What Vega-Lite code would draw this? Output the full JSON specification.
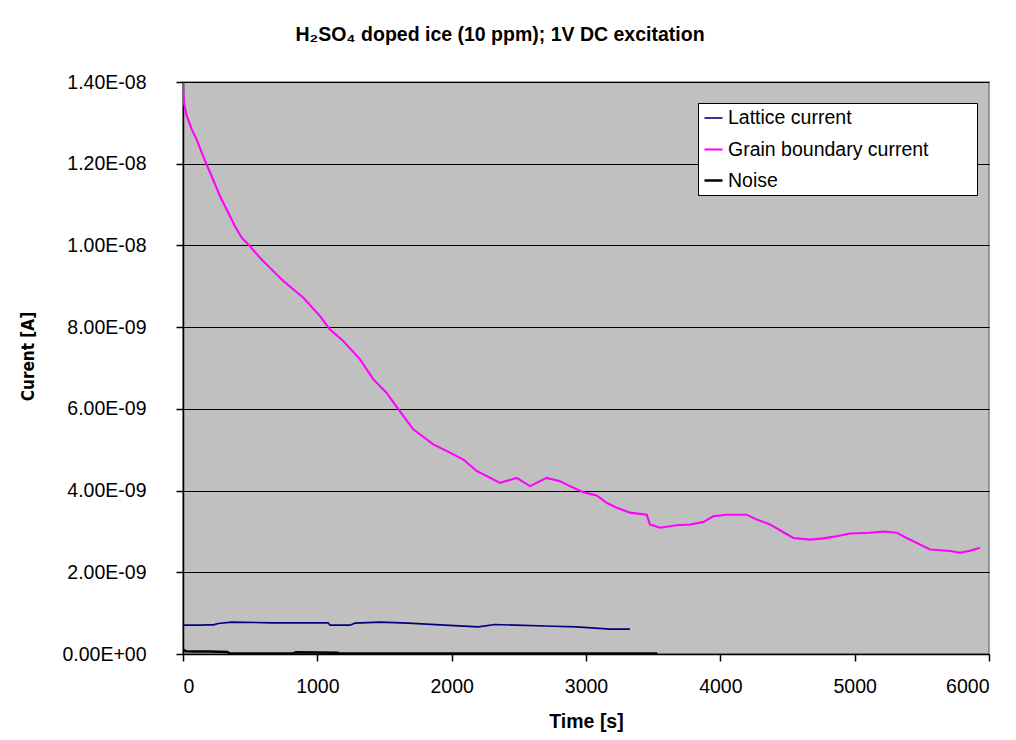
{
  "$schema": "https://vega.github.io/schema/vega-lite/v6.json",
  "autosize": {"type": "none"},
  "width": 806,
  "height": 572,
  "padding": {"left": 183, "top": 82, "right": 27, "bottom": 86},
  "background": "#ffffff",
  "title": {
    "text": "H₂SO₄ doped ice (10 ppm); 1V DC excitation",
    "font": "Liberation Sans",
    "fontSize": 19.5,
    "fontWeight": "bold",
    "color": "#000000",
    "anchor": "middle",
    "frame": "group",
    "dx": -86,
    "baseline": "alphabetic",
    "offset": 12
  },
  "data": {
    "values": [
      {"t": 0, "I": 1.398e-8, "s": "Grain boundary current"},
      {"t": 7, "I": 1.349e-8, "s": "Grain boundary current"},
      {"t": 28, "I": 1.317e-8, "s": "Grain boundary current"},
      {"t": 65, "I": 1.284e-8, "s": "Grain boundary current"},
      {"t": 102, "I": 1.259e-8, "s": "Grain boundary current"},
      {"t": 139, "I": 1.228e-8, "s": "Grain boundary current"},
      {"t": 176, "I": 1.198e-8, "s": "Grain boundary current"},
      {"t": 223, "I": 1.162e-8, "s": "Grain boundary current"},
      {"t": 275, "I": 1.121e-8, "s": "Grain boundary current"},
      {"t": 325, "I": 1.088e-8, "s": "Grain boundary current"},
      {"t": 387, "I": 1.047e-8, "s": "Grain boundary current"},
      {"t": 437, "I": 1.019e-8, "s": "Grain boundary current"},
      {"t": 499, "I": 9.98e-9, "s": "Grain boundary current"},
      {"t": 573, "I": 9.70e-9, "s": "Grain boundary current"},
      {"t": 648, "I": 9.45e-9, "s": "Grain boundary current"},
      {"t": 747, "I": 9.13e-9, "s": "Grain boundary current"},
      {"t": 896, "I": 8.72e-9, "s": "Grain boundary current"},
      {"t": 1020, "I": 8.27e-9, "s": "Grain boundary current"},
      {"t": 1094, "I": 7.94e-9, "s": "Grain boundary current"},
      {"t": 1193, "I": 7.66e-9, "s": "Grain boundary current"},
      {"t": 1318, "I": 7.21e-9, "s": "Grain boundary current"},
      {"t": 1417, "I": 6.72e-9, "s": "Grain boundary current"},
      {"t": 1516, "I": 6.39e-9, "s": "Grain boundary current"},
      {"t": 1615, "I": 5.94e-9, "s": "Grain boundary current"},
      {"t": 1714, "I": 5.50e-9, "s": "Grain boundary current"},
      {"t": 1863, "I": 5.13e-9, "s": "Grain boundary current"},
      {"t": 1988, "I": 4.93e-9, "s": "Grain boundary current"},
      {"t": 2087, "I": 4.76e-9, "s": "Grain boundary current"},
      {"t": 2186, "I": 4.48e-9, "s": "Grain boundary current"},
      {"t": 2360, "I": 4.19e-9, "s": "Grain boundary current"},
      {"t": 2484, "I": 4.31e-9, "s": "Grain boundary current"},
      {"t": 2583, "I": 4.11e-9, "s": "Grain boundary current"},
      {"t": 2707, "I": 4.31e-9, "s": "Grain boundary current"},
      {"t": 2806, "I": 4.23e-9, "s": "Grain boundary current"},
      {"t": 2881, "I": 4.11e-9, "s": "Grain boundary current"},
      {"t": 2980, "I": 3.96e-9, "s": "Grain boundary current"},
      {"t": 3080, "I": 3.88e-9, "s": "Grain boundary current"},
      {"t": 3154, "I": 3.70e-9, "s": "Grain boundary current"},
      {"t": 3229, "I": 3.58e-9, "s": "Grain boundary current"},
      {"t": 3328, "I": 3.46e-9, "s": "Grain boundary current"},
      {"t": 3452, "I": 3.41e-9, "s": "Grain boundary current"},
      {"t": 3476, "I": 3.17e-9, "s": "Grain boundary current"},
      {"t": 3551, "I": 3.09e-9, "s": "Grain boundary current"},
      {"t": 3675, "I": 3.15e-9, "s": "Grain boundary current"},
      {"t": 3774, "I": 3.17e-9, "s": "Grain boundary current"},
      {"t": 3873, "I": 3.23e-9, "s": "Grain boundary current"},
      {"t": 3948, "I": 3.37e-9, "s": "Grain boundary current"},
      {"t": 4047, "I": 3.41e-9, "s": "Grain boundary current"},
      {"t": 4196, "I": 3.41e-9, "s": "Grain boundary current"},
      {"t": 4271, "I": 3.29e-9, "s": "Grain boundary current"},
      {"t": 4370, "I": 3.17e-9, "s": "Grain boundary current"},
      {"t": 4469, "I": 2.98e-9, "s": "Grain boundary current"},
      {"t": 4543, "I": 2.84e-9, "s": "Grain boundary current"},
      {"t": 4667, "I": 2.80e-9, "s": "Grain boundary current"},
      {"t": 4766, "I": 2.83e-9, "s": "Grain boundary current"},
      {"t": 4866, "I": 2.88e-9, "s": "Grain boundary current"},
      {"t": 4965, "I": 2.95e-9, "s": "Grain boundary current"},
      {"t": 5114, "I": 2.97e-9, "s": "Grain boundary current"},
      {"t": 5213, "I": 3.00e-9, "s": "Grain boundary current"},
      {"t": 5313, "I": 2.97e-9, "s": "Grain boundary current"},
      {"t": 5387, "I": 2.84e-9, "s": "Grain boundary current"},
      {"t": 5462, "I": 2.72e-9, "s": "Grain boundary current"},
      {"t": 5561, "I": 2.56e-9, "s": "Grain boundary current"},
      {"t": 5710, "I": 2.52e-9, "s": "Grain boundary current"},
      {"t": 5784, "I": 2.48e-9, "s": "Grain boundary current"},
      {"t": 5858, "I": 2.53e-9, "s": "Grain boundary current"},
      {"t": 5933, "I": 2.60e-9, "s": "Grain boundary current"},
      {"t": 0, "I": 7.06e-10, "s": "Lattice current"},
      {"t": 151, "I": 7.06e-10, "s": "Lattice current"},
      {"t": 164, "I": 7.14e-10, "s": "Lattice current"},
      {"t": 226, "I": 7.14e-10, "s": "Lattice current"},
      {"t": 263, "I": 7.47e-10, "s": "Lattice current"},
      {"t": 362, "I": 7.79e-10, "s": "Lattice current"},
      {"t": 672, "I": 7.63e-10, "s": "Lattice current"},
      {"t": 1080, "I": 7.63e-10, "s": "Lattice current"},
      {"t": 1094, "I": 7.06e-10, "s": "Lattice current"},
      {"t": 1243, "I": 7.06e-10, "s": "Lattice current"},
      {"t": 1280, "I": 7.55e-10, "s": "Lattice current"},
      {"t": 1466, "I": 7.79e-10, "s": "Lattice current"},
      {"t": 1677, "I": 7.55e-10, "s": "Lattice current"},
      {"t": 1950, "I": 7.06e-10, "s": "Lattice current"},
      {"t": 2198, "I": 6.65e-10, "s": "Lattice current"},
      {"t": 2322, "I": 7.22e-10, "s": "Lattice current"},
      {"t": 2756, "I": 6.81e-10, "s": "Lattice current"},
      {"t": 2930, "I": 6.65e-10, "s": "Lattice current"},
      {"t": 3179, "I": 6.08e-10, "s": "Lattice current"},
      {"t": 3327, "I": 6.08e-10, "s": "Lattice current"},
      {"t": 0, "I": 1.1e-10, "s": "Noise"},
      {"t": 20, "I": 7e-11, "s": "Noise"},
      {"t": 100, "I": 6e-11, "s": "Noise"},
      {"t": 200, "I": 6e-11, "s": "Noise"},
      {"t": 330, "I": 5e-11, "s": "Noise"},
      {"t": 345, "I": 1.5e-11, "s": "Noise"},
      {"t": 820, "I": 1.5e-11, "s": "Noise"},
      {"t": 840, "I": 4e-11, "s": "Noise"},
      {"t": 1000, "I": 3.5e-11, "s": "Noise"},
      {"t": 1150, "I": 3e-11, "s": "Noise"},
      {"t": 1170, "I": 1e-11, "s": "Noise"},
      {"t": 3530, "I": 1e-11, "s": "Noise"}
    ]
  },
  "mark": {"type": "line", "clip": true},
  "encoding": {
    "x": {
      "field": "t",
      "type": "quantitative",
      "title": "Time [s]",
      "scale": {"domain": [0, 6000], "nice": false, "zero": false},
      "axis": {
        "values": [0, 1000, 2000, 3000, 4000, 5000, 6000],
        "grid": false,
        "tickSize": 7,
        "labelPadding": 16,
        "titlePadding": 17,
        "format": "d"
      }
    },
    "y": {
      "field": "I",
      "type": "quantitative",
      "title": "Curent [A]",
      "scale": {"domain": [0, 1.4e-8], "nice": false},
      "axis": {
        "values": [0, 2e-9, 4e-9, 6e-9, 8e-9, 1e-8, 1.2e-8, 1.4e-8],
        "grid": true,
        "tickSize": 7,
        "labelPadding": 30,
        "titlePadding": 24,
        "titleY": 274,
        "titleFont": "DejaVu Sans Condensed",
        "titleFontSize": 17,
        "labelExpr": "datum.value == 0 ? '0.00E+00' : (datum.value >= 9.99e-9 ? format(datum.value * 1e8, '.2f') + 'E-08' : format(datum.value * 1e9, '.2f') + 'E-09')"
      }
    },
    "color": {
      "field": "s",
      "type": "nominal",
      "scale": {
        "domain": ["Lattice current", "Grain boundary current", "Noise"],
        "range": ["#000080", "#FF00FF", "#000000"]
      },
      "legend": {
        "title": null,
        "orient": "none",
        "legendX": 515,
        "legendY": 21,
        "fillColor": "#ffffff",
        "strokeColor": "#000000",
        "padding": 5,
        "rowPadding": 11,
        "symbolType": "stroke",
        "symbolSize": 324,
        "symbolStrokeWidth": 1.5,
        "labelOffset": 4,
        "labelFont": "Liberation Sans",
        "labelFontSize": 19.5,
        "labelColor": "#000000",
        "labelLimit": 400,
        "labelExpr": "datum.label == 'Grain boundary current' ? datum.label + '\u00a0\u00a0\u00a0\u00a0\u00a0\u00a0\u00a0\u00a0\u200b' : datum.label"
      }
    },
    "strokeWidth": {
      "field": "s",
      "type": "nominal",
      "scale": {
        "domain": ["Lattice current", "Grain boundary current", "Noise"],
        "range": [1.6, 2.5, 1.6]
      },
      "legend": null
    }
  },
  "config": {
    "view": {"fill": "#C0C0C0", "stroke": "#808080", "strokeWidth": 1.5},
    "axis": {
      "domainColor": "#000000",
      "domainWidth": 1.5,
      "tickColor": "#000000",
      "tickWidth": 1.5,
      "gridColor": "#000000",
      "gridOpacity": 1,
      "gridWidth": 1.2,
      "labelColor": "#000000",
      "labelFont": "Liberation Sans",
      "labelFontSize": 19.5,
      "titleColor": "#000000",
      "titleFont": "Liberation Sans",
      "titleFontSize": 19.5,
      "titleFontWeight": "bold"
    }
  }
}
